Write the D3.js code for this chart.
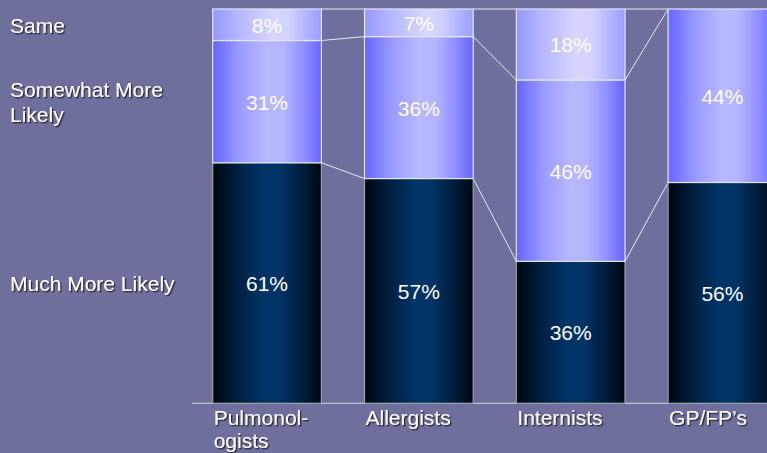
<!DOCTYPE html>
<html>
<head>
<meta charset="utf-8">
<script src="https://cdn.jsdelivr.net/npm/d3@7"></script>
<style>
  html, body { margin: 0; padding: 0; background: #6e6f9c; }
  svg { display: block; }
  text { font-family: "Liberation Sans", Arial, sans-serif; }
</style>
</head>
<body>
<svg id="chart" width="767" height="453"></svg>
<script>
// ---- data ----
const categories = ["Pulmonol-|ogists", "Allergists", "Internists", "GP/FP’s"];
const muchMore = [61, 57, 36, 56];
const somewhatMore = [31, 36, 46, 44];
const same = [8, 7, 18, 0];
const seriesNames = ["Much More Likely", "Somewhat More|Likely", "Same"];

const W = 767, H = 453;
const svg = d3.select("#chart");

const x = d3.scaleBand().domain(categories).range([212.7, 776.8]).paddingInner(0.284).paddingOuter(0);
const y = d3.scaleLinear().domain([0, 100]).range([403.3, 9]);

const defs = svg.append("defs");
function grad(id, stops) {
  const g = defs.append("linearGradient").attr("id", id).attr("x1", "0%").attr("x2", "100%").attr("y1", "0%").attr("y2", "0%");
  stops.forEach(s => g.append("stop").attr("offset", s[0]).attr("stop-color", s[1]));
}
grad("gDark", [["0%", "#000810"], ["20%", "#001c3a"], ["45%", "#003366"], ["62%", "#003366"], ["85%", "#001a36"], ["100%", "#000810"]]);
grad("gMid", [["0%", "#6464ff"], ["25%", "#9a9aff"], ["50%", "#b8b8ff"], ["65%", "#b4b4ff"], ["85%", "#8c8cff"], ["100%", "#6464ff"]]);
grad("gLight", [["0%", "#9797ff"], ["25%", "#b8b8ff"], ["55%", "#d6d6ff"], ["70%", "#d2d2ff"], ["88%", "#b0b0ff"], ["100%", "#9c9cff"]]);

const shadow = defs.append("filter").attr("id", "shadow").attr("x", "-10%").attr("y", "-20%").attr("width", "130%").attr("height", "150%");
shadow.append("feDropShadow").attr("dx", 1.3).attr("dy", 1.3).attr("stdDeviation", 0.4).attr("flood-color", "#1a1a2a").attr("flood-opacity", 0.9);

const series = [
  { name: seriesNames[0], values: muchMore, fill: "url(#gDark)", stroke: "#a0a0a8" },
  { name: seriesNames[1], values: somewhatMore, fill: "url(#gMid)", stroke: "#e4e4ff" },
  { name: seriesNames[2], values: same, fill: "url(#gLight)", stroke: "#e4e4ff" }
];

// stacked
const stacked = series.map((s, si) => s.values.map((v, ci) => {
  let base = 0;
  for (let k = 0; k < si; k++) base += series[k].values[ci];
  return { y0: base, y1: base + v, v, cat: categories[ci] };
}));

// axis line
svg.append("line").attr("x1", 192).attr("x2", W).attr("y1", y(0)).attr("y2", y(0))
  .attr("stroke", "#c4c4cc").attr("stroke-width", 1.2);

// series connector lines
const cuts = [0, 1, 2].map(si => categories.map((c, ci) => stacked[si][ci].y1));
cuts.forEach(vals => {
  for (let ci = 0; ci < categories.length - 1; ci++) {
    svg.append("line")
      .attr("x1", x(categories[ci]) + x.bandwidth()).attr("y1", y(vals[ci]))
      .attr("x2", x(categories[ci + 1])).attr("y2", y(vals[ci + 1]))
      .attr("stroke", "#e8e8ee").attr("stroke-width", 1);
  }
});

// bars
series.forEach((s, si) => {
  svg.append("g").selectAll("rect").data(stacked[si].filter(d => d.v > 0)).join("rect")
    .attr("x", d => x(d.cat)).attr("width", x.bandwidth())
    .attr("y", d => y(d.y1)).attr("height", d => y(d.y0) - y(d.y1))
    .attr("fill", s.fill).attr("stroke", s.stroke).attr("stroke-width", 1.2);
});

// value labels
series.forEach((s, si) => {
  svg.append("g").selectAll("text").data(stacked[si].filter(d => d.v > 0)).join("text")
    .attr("x", d => x(d.cat) + x.bandwidth() / 2)
    .attr("y", d => (y(d.y0) + y(d.y1)) / 2 + 8)
    .attr("text-anchor", "middle").attr("font-size", 21).attr("fill", "#ffffff")
    .text(d => d.v + "%");
});

// series labels on left (aligned with first bar segments)
series.forEach((s, si) => {
  const d = stacked[si][0];
  const cy = (y(d.y0) + y(d.y1)) / 2;
  const lines = s.name.split("|");
  const t = svg.append("text").attr("font-size", 21).attr("fill", "#ffffff").attr("filter", "url(#shadow)");
  lines.forEach((ln, i) => {
    t.append("tspan").attr("x", 10).attr("y", cy + 8 + (i - (lines.length - 1) / 2) * 25).text(ln);
  });
});

// category labels
categories.forEach(c => {
  const lines = c.split("|");
  const t = svg.append("text").attr("font-size", 21).attr("fill", "#ffffff").attr("filter", "url(#shadow)");
  lines.forEach((ln, i) => {
    t.append("tspan").attr("x", x(c) + 1).attr("y", 425 + i * 23).text(ln);
  });
});
</script>
</body>
</html>
